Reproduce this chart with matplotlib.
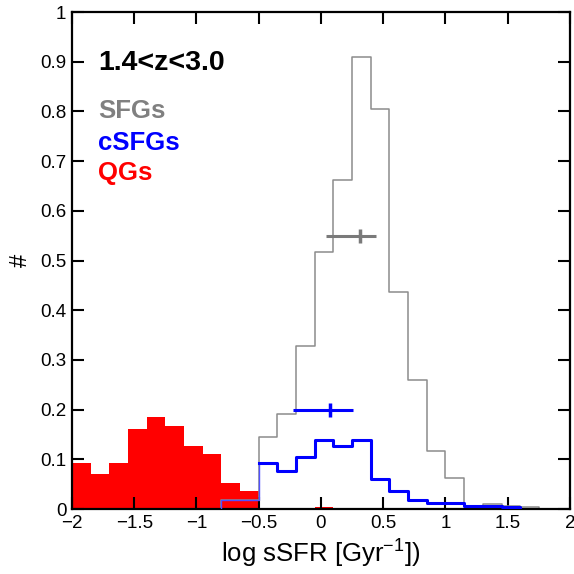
import numpy as np
import matplotlib
matplotlib.use("Agg")
import matplotlib.pyplot as plt

plt.rcParams['font.family'] = ['Liberation Sans', 'DejaVu Sans']

# histogram bins are 0.15 dex wide
bin_width = 0.15

# QGs (filled red), bins start at -2.0
qg_start = -2.0
qg_vals = [0.093, 0.070, 0.093, 0.162, 0.185, 0.168, 0.127, 0.111, 0.053, 0.036,
           0.0, 0.0, 0.0, 0.005]

# cSFGs (blue) and SFGs (gray), bins start at -0.8
sf_start = -0.8
csfg_vals = [0.018, 0.018, 0.092, 0.077, 0.104, 0.139, 0.127, 0.139, 0.060, 0.036,
             0.018, 0.013, 0.013, 0.006, 0.006, 0.004]
sfg_vals = [0.018, 0.018, 0.144, 0.191, 0.329, 0.518, 0.662, 0.909, 0.805, 0.437,
            0.26, 0.117, 0.063, 0.006, 0.011, 0.006, 0.004]

# median (x), low and high end of range, y level of the marker
sfg_med = [0.313, 0.04, 0.442, 0.55]
csfg_med = [0.072, -0.222, 0.259, 0.20]

xticks = [-2, -1.5, -1, -0.5, 0, 0.5, 1, 1.5, 2]
xticklabels = ['\u22122', '\u22121.5', '\u22121', '\u22120.5', '0', '0.5', '1', '1.5', '2']
yticks = [0, 0.1, 0.2, 0.3, 0.4, 0.5, 0.6, 0.7, 0.8, 0.9, 1]
yticklabels = ['0', '0.1', '0.2', '0.3', '0.4', '0.5', '0.6', '0.7', '0.8', '0.9', '1']

gray = '#8c8c8c'
blue = '#0000ff'
red = '#ff0000'


def edges_for(start, vals):
    return start + bin_width * np.arange(len(vals) + 1)


def step_line(start, vals):
    # x, y of an outlined histogram that starts and ends on zero
    e = edges_for(start, vals)
    x = np.repeat(e, 2)
    y = np.concatenate([[0], np.repeat(vals, 2), [0]])
    return x, y


fig = plt.figure(figsize=(5.74, 5.74), dpi=100)
ax = fig.add_axes([0.1254, 0.1132, 0.8676, 0.8658])

qg_edges = edges_for(qg_start, qg_vals)
ax.bar(qg_edges[:-1], qg_vals, width=bin_width, align='edge', color=red,
       linewidth=0, zorder=1)

x, y = step_line(sf_start, sfg_vals)
ax.plot(x, y, color=gray, lw=1.1, zorder=2)

x, y = step_line(sf_start, csfg_vals)
# first two bins sit inside the red histogram: thin line
ax.plot(x[:6], y[:6], color='#5050ff', lw=1.0, zorder=3)
ax.plot(x[5:], y[5:], color=blue, lw=2.2, zorder=3)

for med, col in [(sfg_med, '#7a7a7a'), (csfg_med, blue)]:
    m, lo, hi, yy = med
    ax.errorbar([m], [yy], xerr=[[m - lo], [hi - m]], fmt='|', color=col,
                ms=10, mew=2.5, elinewidth=2.2, capsize=0, zorder=4)

ax.text(-1.79, 0.898, '1.4<z<3.0', fontsize=20.5, fontweight='bold', color='black', va='center')
ax.text(-1.79, 0.800, 'SFGs', fontsize=18.5, fontweight='bold', color='#808080', va='center')
ax.text(-1.79, 0.736, 'cSFGs', fontsize=18.5, fontweight='bold', color=blue, va='center')
ax.text(-1.79, 0.676, 'QGs', fontsize=18.5, fontweight='bold', color=red, va='center')

ax.set_xlim(-2, 2)
ax.set_ylim(0, 1)
ax.set_xticks(xticks)
ax.set_xticklabels(xticklabels)
ax.set_yticks(yticks)
ax.set_yticklabels(yticklabels)
ax.tick_params(direction='in', length=8.5, width=1.5, top=True, right=True,
               labelsize=13.5, pad=4)
for s in ax.spines.values():
    s.set_linewidth(1.6)

ax.set_xlabel('log sSFR [Gyr$^{\\mathregular{-1}}$])', fontsize=18.5, labelpad=3)
ax.set_ylabel('#', fontsize=17, labelpad=6)

fig.savefig('out.png', dpi=100)
